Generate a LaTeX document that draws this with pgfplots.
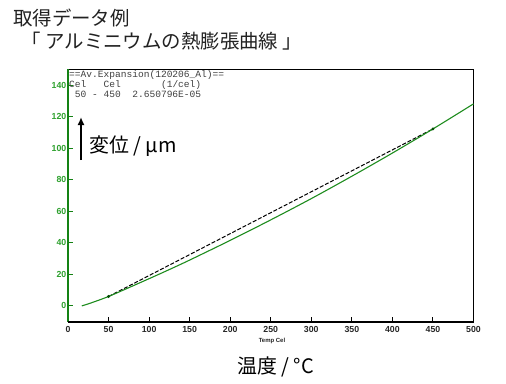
\documentclass[border=0pt]{standalone}
\usepackage{fontspec}
\setmainfont{Liberation Sans}
\newfontfamily\jp{Noto Sans CJK JP}
\newfontfamily\mono{Liberation Mono}
\usepackage{pgfplots}
\usetikzlibrary{arrows.meta}
\pgfplotsset{compat=1.18}
\definecolor{curvegreen}{RGB}{30,140,30}
\definecolor{axgreen}{RGB}{20,130,20}
\definecolor{labgreen}{RGB}{45,160,45}
\definecolor{titlegray}{RGB}{34,34,34}
\begin{document}
\begin{tikzpicture}[x=1bp,y=1bp]
\path[use as bounding box] (0,0) rectangle (506,383);
\begin{axis}[
  at={(68bp,61.3bp)}, anchor=south west,
  width=405.5bp, height=252.2bp, scale only axis,
  xmin=0, xmax=500, ymin=-10, ymax=150,
  xtick={0,50,...,500}, ytick={0,20,...,140},
  xtick pos=bottom, ytick pos=left,
  tick align=inside,
  major tick length=5bp,
  axis line style={black, line width=0.8bp},
  x tick style={black, line width=1bp},
  y tick style={axgreen, line width=1bp},
  xticklabel style={font=\fontsize{8.8}{9}\selectfont\bfseries, text=black!85, inner sep=1bp, yshift=-3bp},
  yticklabel style={font=\fontsize{8.8}{9}\selectfont\bfseries, text=labgreen, inner sep=1.5bp},
  /pgf/number format/assume math mode=true,
  clip=false,
]
\addplot[black, dashed, dash pattern=on 4bp off 1.8bp, line width=1bp] coordinates {(50,6.0) (450,112.3)};
\addplot[curvegreen, line width=1.1bp, smooth] coordinates {
(17,0) (30,2.2) (50,6.0) (75,11.6) (100,17.3) (125,23.1) (150,29.1) (200,41.6) (250,54.6) (300,68.1) (350,82.3) (400,97.0) (450,112.3) (500,128.2)};
\addplot[only marks, mark=*, mark size=1.3bp, black!70!green] coordinates {(50,6.0) (450,112.3)};
\draw[axgreen, line width=2.2bp] (axis cs:0,-10) -- (axis cs:0,150);
\draw[black, line width=1.6bp] (axis cs:0,-10) -- (axis cs:500,-10);
\end{axis}
\node[anchor=base west, inner sep=0, text=titlegray, font=\jp\fontsize{19.5}{21}\selectfont] at (13,357.5) {取得データ例};
\node[anchor=base west, inner sep=0, text=titlegray, font=\jp\fontsize{19.5}{21}\selectfont] at (21.5,335) {「 アルミニウムの熱膨張曲線 」};
\node[anchor=base west, inner sep=0, text=black, font=\jp\fontsize{20}{22}\selectfont] at (89,231) {変位 / µm};
\node[anchor=base west, inner sep=0, text=black, font=\jp\fontsize{20}{22}\selectfont] at (237,10) {温度 / °C};
\draw[black, line width=2bp, -{Latex[length=8bp,width=7bp]}] (81,223) -- (81,266);
\node[anchor=base west, inner sep=0, text=black!75, font=\mono\fontsize{9.6}{10}\selectfont] at (69,305.5) {==Av.Expansion(120206\_Al)==};
\node[anchor=base west, inner sep=0, text=black!75, font=\mono\fontsize{9.6}{10}\selectfont] at (69,296) {Cel\ \ \ Cel\ \ \ \ \ \ \ (1/cel)};
\node[anchor=base west, inner sep=0, text=black!75, font=\mono\fontsize{9.6}{10}\selectfont] at (69,286) {\ 50 - 450\ \ 2.650796E-05};
\node[inner sep=0, text=black!85, font=\fontsize{6}{7}\selectfont\bfseries] at (272,42) {Temp Cel};
\end{tikzpicture}
\end{document}
